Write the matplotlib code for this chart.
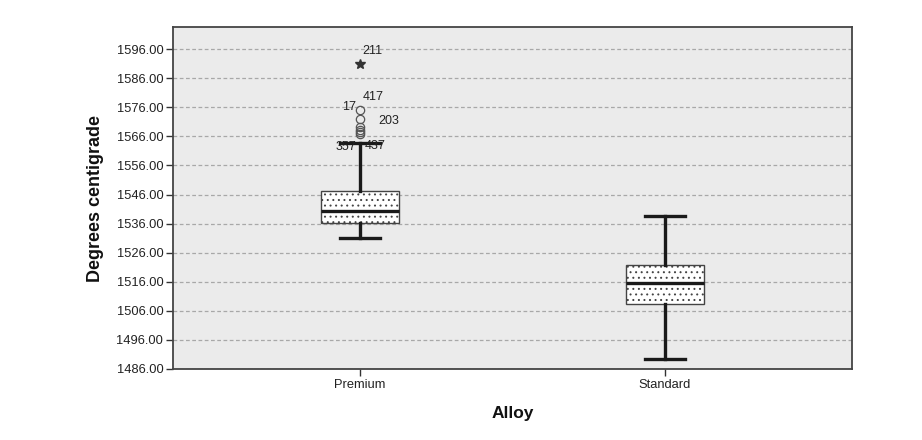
import matplotlib
matplotlib.use("Agg")
import matplotlib.pyplot as plt

plt.rcParams['font.family'] = ['Liberation Sans', 'DejaVu Sans']
plt.rcParams['hatch.color'] = '#8a8a8a'
plt.rcParams['hatch.linewidth'] = 0.7

# ---- data ----
categories = ['Premium', 'Standard']
whisker_low = [1531.0, 1489.3]
q1 = [1536.1, 1508.3]
median = [1540.2, 1515.5]
q3 = [1547.3, 1521.8]
whisker_high = [1563.7, 1538.6]
premium_outliers = [1575.0, 1571.9, 1569.2, 1568.2, 1567.5, 1566.8]
premium_extreme = [1590.8]
y_ticks = [1486, 1496, 1506, 1516, 1526, 1536, 1546, 1556, 1566, 1576, 1586, 1596]

# case labels: (text, anchor value)
case_labels = ['211', '417', '17', '203', '357', '437']
case_values = [1590.8, 1575.0, 1575.0, 1571.9, 1566.8, 1566.8]
# pixel offsets (dx, dy) and horizontal alignment -- styling only
case_offsets = [(2, 13, 'left'), (3, 13, 'left'), (-4, 3, 'right'),
                (18, -2, 'left'), (-4, -12.5, 'right'), (5, -12, 'left')]

fig = plt.figure(figsize=(9.22, 4.4), dpi=100)
ax = fig.add_axes([173/922, 1-369/440, (852-173)/922, (369-27)/440])
ax.set_facecolor('#ebebeb')

stats = []
for i, c in enumerate(categories):
    stats.append(dict(label=c, whislo=whisker_low[i], q1=q1[i], med=median[i],
                      q3=q3[i], whishi=whisker_high[i],
                      fliers=premium_outliers if i == 0 else []))

positions = [1, 2]
bp = ax.bxp(stats, positions=positions, widths=0.254, capwidths=0.128,
            patch_artist=True, showfliers=True, zorder=3,
            boxprops=dict(facecolor='white', edgecolor='#444444', linewidth=1.0, hatch='...'),
            medianprops=dict(color='#1a1a1a', linewidth=2.4),
            whiskerprops=dict(color='#1a1a1a', linewidth=2.4),
            capprops=dict(color='#1a1a1a', linewidth=2.4),
            flierprops=dict(marker='o', markersize=6, markerfacecolor='none',
                            markeredgecolor='#555555', markeredgewidth=0.9))

ax.plot([positions[0]] * len(premium_extreme), premium_extreme, linestyle='none',
        marker='*', markersize=7, color='#333333', zorder=4)

for lab, val, (dx, dy, ha) in zip(case_labels, case_values, case_offsets):
    ax.annotate(lab, xy=(positions[0], val), xytext=(dx*0.72, dy*0.72),
                textcoords='offset points', ha=ha, va='center',
                fontsize=9, color='#222222', zorder=5)

ax.set_xlim(0.387, 2.613)
ax.set_ylim(1486, 1603.6)
ax.set_yticks(y_ticks)
ax.set_yticklabels([f"{v:.2f}" for v in y_ticks])
ax.set_xticks(positions)
ax.set_xticklabels(categories)
ax.yaxis.grid(True, linestyle=(0, (3, 2)), color='#a8a8a8', linewidth=0.9, zorder=1)
ax.set_axisbelow(True)

ax.tick_params(axis='both', direction='out', length=5, width=1.0, color='#333333',
               labelsize=9.3, labelcolor='#222222', pad=2)
for s in ax.spines.values():
    s.set_color('#444444')
    s.set_linewidth(1.3)

ax.set_ylabel('Degrees centigrade', fontsize=13, fontweight='bold', color='#111111', labelpad=9)
ax.set_xlabel('Alloy', fontsize=12.5, fontweight='bold', color='#111111', labelpad=11)

fig.savefig('out.png', dpi=100)
